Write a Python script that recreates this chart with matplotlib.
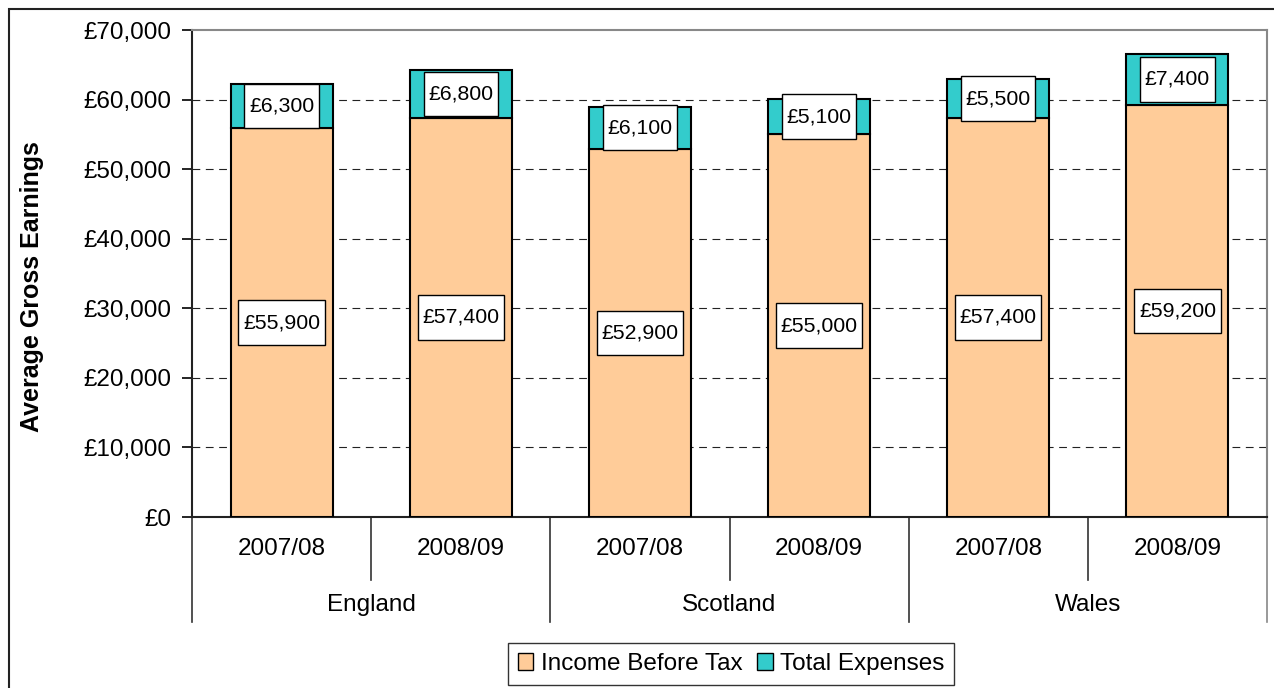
import numpy as np
import matplotlib
matplotlib.use('Agg')
import matplotlib.pyplot as plt
from matplotlib.patches import Patch, Rectangle
from matplotlib.path import Path
from matplotlib.ticker import FuncFormatter

plt.rcParams['font.family'] = ['Liberation Sans', 'DejaVu Sans']

# data
countries = ['England', 'Scotland', 'Wales']
years = ['2007/08', '2008/09', '2007/08', '2008/09', '2007/08', '2008/09']
income = [55900, 57400, 52900, 55000, 57400, 59200]
expenses = [6300, 6800, 6100, 5100, 5500, 7400]
yticks = [0, 10000, 20000, 30000, 40000, 50000, 60000, 70000]

c_income = '#FFCC99'
c_exp = '#33CCCC'


def label_box(x0, y0, width, height, mutation_size):
    # excel style label box: tall, narrow padding at the sides
    px = 0.22 * mutation_size
    py = 0.6 * mutation_size
    x0, y0 = x0 - px, y0 - py
    x1, y1 = x0 + width + 2 * px, y0 + height + 2 * py
    return Path([(x0, y0), (x1, y0), (x1, y1), (x0, y1), (x0, y0)], closed=True)


fig = plt.figure(figsize=(12.74, 6.88), dpi=100)
ax = fig.add_axes([192 / 1274, 1 - 517 / 688, 1075 / 1274, 487 / 688])

x = np.arange(len(years))
w = 0.57
ax.bar(x, income, w, color=c_income, edgecolor='black', linewidth=1.5, zorder=3)
ax.bar(x, expenses, w, bottom=income, color=c_exp, edgecolor='black', linewidth=1.5, zorder=3)

box = dict(boxstyle=label_box, facecolor='white', edgecolor='black', linewidth=1.0)
for i in range(len(years)):
    ax.text(x[i], income[i] / 2, f'£{income[i]:,}', ha='center', va='center',
            fontsize=15.3, bbox=box, zorder=5)
    ax.text(x[i], income[i] + expenses[i] / 2, f'£{expenses[i]:,}', ha='center', va='center',
            fontsize=15.3, bbox=box, zorder=5)

ax.set_xlim(-0.5, len(years) - 0.5)
ax.set_ylim(0, 70000)
ax.set_yticks(yticks)
ax.yaxis.set_major_formatter(FuncFormatter(lambda v, p: f'£{int(v):,}'))
ax.tick_params(axis='y', labelsize=17.5, direction='out', length=7, width=1.2, pad=8)
ax.set_xticks([])
for v in yticks[1:-1]:
    ax.axhline(v, color='#222222', linestyle=(0, (7, 5)), linewidth=0.8, zorder=1)

for s in ['top', 'right']:
    ax.spines[s].set_color('#888888')
    ax.spines[s].set_linewidth(1.5)
for s in ['left', 'bottom']:
    ax.spines[s].set_color('#222222')
    ax.spines[s].set_linewidth(1.5)

# two level category axis
tr = ax.get_xaxis_transform()
for i in range(len(years) + 1):
    b = i - 0.5
    low = -0.2156 if i % 2 == 0 else -0.129
    color = '#888888' if i == len(years) else '#333333'
    ax.plot([b, b], [0, low], transform=tr, color=color, linewidth=1.2, clip_on=False)
for i, yr in enumerate(years):
    ax.text(x[i], -0.066, yr, transform=tr, ha='center', va='center', fontsize=17.5)
for j, c in enumerate(countries):
    ax.text(2 * j + 0.5, -0.181, c, transform=tr, ha='center', va='center', fontsize=17.5)

fig.text(32 / 1274, 1 - 287 / 688, 'Average Gross Earnings', rotation=90, ha='center',
         va='center', fontsize=18, fontweight='bold')

handles = [Patch(facecolor=c_income, edgecolor='black', label='Income Before Tax'),
           Patch(facecolor=c_exp, edgecolor='black', label='Total Expenses')]
leg = fig.legend(handles=handles, loc='center', bbox_to_anchor=(731 / 1274, 1 - 664 / 688),
                 ncol=2, fontsize=17.5, frameon=True, fancybox=False, edgecolor='black',
                 handlelength=0.65, handleheight=0.65, handletextpad=0.3, columnspacing=0.6,
                 borderpad=0.4)
leg.get_frame().set_linewidth(1.0)

# outer chart frame
fig.patches.append(Rectangle((9 / 1274, -0.05), 1.1, 1 - 9 / 688 + 0.05, transform=fig.transFigure,
                             fill=False, edgecolor='#222222', linewidth=1.5))

fig.savefig('out.png', dpi=100)
